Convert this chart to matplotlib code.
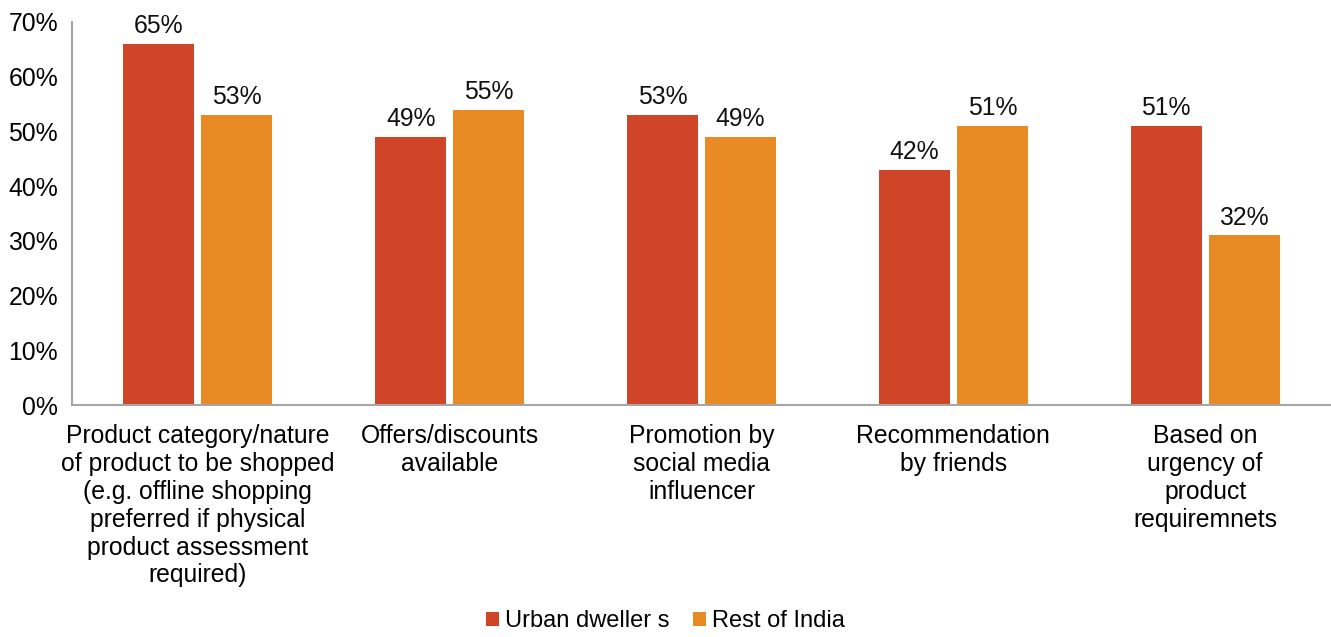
import numpy as np
import matplotlib
matplotlib.use("Agg")
import matplotlib.pyplot as plt
from matplotlib.ticker import FuncFormatter

plt.rcParams["font.family"] = ["Liberation Sans", "DejaVu Sans"]

categories = [
    "Product category/nature\nof product to be shopped\n(e.g. offline shopping\npreferred if physical\nproduct assessment\nrequired)",
    "Offers/discounts\navailable",
    "Promotion by\nsocial media\ninfluencer",
    "Recommendation\nby friends",
    "Based on\nurgency of\nproduct\nrequiremnets",
]
# bar heights as drawn (%), and the printed data labels
urban = [66, 49, 53, 43, 51]
rest = [53, 54, 49, 51, 31]
urban_labels = ["65%", "49%", "53%", "42%", "51%"]
rest_labels = ["53%", "55%", "49%", "51%", "32%"]
series_names = ["Urban dweller s", "Rest of India"]

RED = "#D04527"
ORANGE = "#E98B24"
AXIS = "#A6A6A6"
FS = 17.8

x = np.arange(len(categories))
w = 0.282
off = 0.155

fig = plt.figure(figsize=(13.31, 6.37), dpi=100)
ax = fig.add_axes([0.0541, 0.3642, 0.9459, 0.6013])

b1 = ax.bar(x - off, urban, w, color=RED, label=series_names[0])
b2 = ax.bar(x + off, rest, w, color=ORANGE, label=series_names[1])

for bars, labels in ((b1, urban_labels), (b2, rest_labels)):
    for rect, lab in zip(bars, labels):
        ax.annotate(lab, (rect.get_x() + rect.get_width() / 2, rect.get_height()),
                    xytext=(0, 4), textcoords="offset points",
                    ha="center", va="bottom", fontsize=FS, color="#111111")

ax.set_xlim(-0.5, len(categories) - 0.5)
ax.set_ylim(0, 70)
ax.set_yticks(np.arange(0, 71, 10))
ax.yaxis.set_major_formatter(FuncFormatter(lambda v, _: f"{v:.0f}%"))
ax.set_xticks(x)
ax.set_xticklabels(categories, fontsize=FS, linespacing=1.2)
ax.tick_params(axis="x", length=0, pad=14)
ax.tick_params(axis="y", length=0, pad=10, labelsize=FS)

for s in ("top", "right"):
    ax.spines[s].set_visible(False)
for s in ("left", "bottom"):
    ax.spines[s].set_color(AXIS)
    ax.spines[s].set_linewidth(1.5)

fig.legend(handles=[b1, b2], loc="lower center", bbox_to_anchor=(0.5, -0.026),
           ncol=2, frameon=False, fontsize=17, handlelength=0.55,
           handleheight=0.55, handletextpad=0.25, columnspacing=1.0)

fig.savefig("out.png", dpi=100)
